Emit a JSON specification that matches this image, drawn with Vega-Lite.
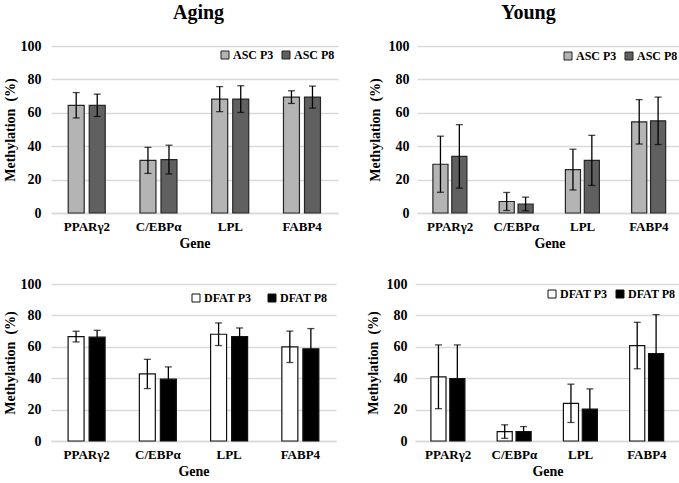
{
  "$schema": "https://vega.github.io/schema/vega-lite/v6.json",
  "padding": {"left": 3, "top": 3, "right": 2, "bottom": 2},
  "background": "white",
  "spacing": 27,
  "config": {
    "view": {"stroke": null},
    "font": "Liberation Serif",
    "axis": {"labelFont": "Liberation Serif", "titleFont": "Liberation Serif", "labelFontWeight": "bold", "titleFontWeight": "bold", "labelColor": "black", "titleColor": "black"}
  },
  "data": {"values": [
    {"panel": "Aging ASC", "gene": "PPARγ2", "group": "ASC P3", "mean": 64.5, "sd": 7.6},
    {"panel": "Aging ASC", "gene": "PPARγ2", "group": "ASC P8", "mean": 64.5, "sd": 6.7},
    {"panel": "Aging ASC", "gene": "C/EBPα", "group": "ASC P3", "mean": 31.5, "sd": 7.8},
    {"panel": "Aging ASC", "gene": "C/EBPα", "group": "ASC P8", "mean": 32.0, "sd": 8.6},
    {"panel": "Aging ASC", "gene": "LPL", "group": "ASC P3", "mean": 68.2, "sd": 7.5},
    {"panel": "Aging ASC", "gene": "LPL", "group": "ASC P8", "mean": 68.2, "sd": 8.0},
    {"panel": "Aging ASC", "gene": "FABP4", "group": "ASC P3", "mean": 69.4, "sd": 3.8},
    {"panel": "Aging ASC", "gene": "FABP4", "group": "ASC P8", "mean": 69.4, "sd": 6.6},
    {"panel": "Young ASC", "gene": "PPARγ2", "group": "ASC P3", "mean": 29.2, "sd": 16.8},
    {"panel": "Young ASC", "gene": "PPARγ2", "group": "ASC P8", "mean": 33.9, "sd": 19.0},
    {"panel": "Young ASC", "gene": "C/EBPα", "group": "ASC P3", "mean": 6.9, "sd": 5.4},
    {"panel": "Young ASC", "gene": "C/EBPα", "group": "ASC P8", "mean": 5.4, "sd": 4.1},
    {"panel": "Young ASC", "gene": "LPL", "group": "ASC P3", "mean": 26.0, "sd": 12.2},
    {"panel": "Young ASC", "gene": "LPL", "group": "ASC P8", "mean": 31.5, "sd": 15.0},
    {"panel": "Young ASC", "gene": "FABP4", "group": "ASC P3", "mean": 54.6, "sd": 13.3},
    {"panel": "Young ASC", "gene": "FABP4", "group": "ASC P8", "mean": 55.2, "sd": 14.2},
    {"panel": "Aging DFAT", "gene": "PPARγ2", "group": "DFAT P3", "mean": 66.5, "sd": 3.4},
    {"panel": "Aging DFAT", "gene": "PPARγ2", "group": "DFAT P8", "mean": 66.1, "sd": 4.4},
    {"panel": "Aging DFAT", "gene": "C/EBPα", "group": "DFAT P3", "mean": 42.7, "sd": 9.3},
    {"panel": "Aging DFAT", "gene": "C/EBPα", "group": "DFAT P8", "mean": 39.4, "sd": 7.8},
    {"panel": "Aging DFAT", "gene": "LPL", "group": "DFAT P3", "mean": 68.0, "sd": 7.2},
    {"panel": "Aging DFAT", "gene": "LPL", "group": "DFAT P8", "mean": 66.5, "sd": 5.5},
    {"panel": "Aging DFAT", "gene": "FABP4", "group": "DFAT P3", "mean": 60.0, "sd": 10.0},
    {"panel": "Aging DFAT", "gene": "FABP4", "group": "DFAT P8", "mean": 58.7, "sd": 12.9},
    {"panel": "Young DFAT", "gene": "PPARγ2", "group": "DFAT P3", "mean": 40.9, "sd": 20.3},
    {"panel": "Young DFAT", "gene": "PPARγ2", "group": "DFAT P8", "mean": 39.8, "sd": 21.4},
    {"panel": "Young DFAT", "gene": "C/EBPα", "group": "DFAT P3", "mean": 6.0, "sd": 4.3},
    {"panel": "Young DFAT", "gene": "C/EBPα", "group": "DFAT P8", "mean": 6.0, "sd": 3.2},
    {"panel": "Young DFAT", "gene": "LPL", "group": "DFAT P3", "mean": 24.0, "sd": 12.2},
    {"panel": "Young DFAT", "gene": "LPL", "group": "DFAT P8", "mean": 20.3, "sd": 12.9},
    {"panel": "Young DFAT", "gene": "FABP4", "group": "DFAT P3", "mean": 60.8, "sd": 14.8},
    {"panel": "Young DFAT", "gene": "FABP4", "group": "DFAT P8", "mean": 55.7, "sd": 24.8}
  ]},
  "resolve": {"scale": {"color": "independent", "x": "independent", "y": "independent", "xOffset": "independent"}, "legend": {"color": "independent"}},
  "vconcat": [
    {
      "spacing": 30,
      "resolve": {"scale": {"color": "independent", "x": "independent", "y": "independent", "xOffset": "independent"}, "legend": {"color": "independent"}},
      "hconcat": [
        {
          "width": 287, "height": 167,
          "title": {"text": "Aging", "font": "Liberation Serif", "fontSize": 20, "fontWeight": "bold", "color": "black", "offset": 16, "dx": 4},
          "transform": [{"filter": "datum.panel === 'Aging ASC'"}],
          "encoding": {
            "x": {"field": "gene", "type": "nominal", "sort": ["PPARγ2", "C/EBPα", "LPL", "FABP4"], "scale": {"type": "band", "paddingInner": 0.48, "paddingOuter": 0.24},
                  "axis": {"title": "Gene", "labelAngle": 0, "labelFontSize": 13, "titleFontSize": 14, "ticks": false, "domainColor": "#d9d9d9", "domainWidth": 1.5, "labelPadding": 7, "titlePadding": 3}},
            "xOffset": {"field": "group", "type": "nominal", "scale": {"type": "band", "paddingInner": 0.24, "paddingOuter": 0, "range": [0, 37]}},
            "y": {"field": "mean", "type": "quantitative", "scale": {"domain": [0, 100]},
                  "axis": {"title": "Methylation\u00a0 (%)", "values": [0, 20, 40, 60, 80, 100], "labelFontSize": 14, "titleFontSize": 14, "grid": true, "gridColor": "#d9d9d9", "gridWidth": 1.5, "domain": false, "ticks": false, "labelPadding": 10, "titlePadding": 3}}
          },
          "layer": [
            {"mark": {"type": "bar", "stroke": "#262626", "strokeWidth": 1.2},
             "encoding": {
               "color": {"field": "group", "type": "nominal", "scale": {"domain": ["ASC P3", "ASC P8"], "range": ["#b4b4b4", "#606060"]},
                         "legend": {"title": null, "orient": "top-right", "direction": "horizontal", "symbolType": "square", "symbolSize": 64, "symbolStrokeColor": "#222222", "symbolStrokeWidth": 1, "labelFont": "Liberation Serif", "labelFontWeight": "bold", "labelFontSize": 12, "labelColor": "black", "columnPadding": 6, "labelOffset": 2, "offset": 3}}
             }},
            {"mark": {"type": "errorbar", "ticks": {"size": 7, "color": "black", "thickness": 1.3}, "rule": {"color": "black", "strokeWidth": 1.3}},
             "encoding": {"yError": {"field": "sd"}}}
          ]
        },
        {
          "width": 265, "height": 167,
          "title": {"text": "Young", "font": "Liberation Serif", "fontSize": 20, "fontWeight": "bold", "color": "black", "offset": 16, "dx": -21},
          "transform": [{"filter": "datum.panel === 'Young ASC'"}],
          "encoding": {
            "x": {"field": "gene", "type": "nominal", "sort": ["PPARγ2", "C/EBPα", "LPL", "FABP4"], "scale": {"type": "band", "paddingInner": 0.48, "paddingOuter": 0.24},
                  "axis": {"title": "Gene", "labelAngle": 0, "labelFontSize": 13, "titleFontSize": 14, "ticks": false, "domainColor": "#d9d9d9", "domainWidth": 1.5, "labelPadding": 7, "titlePadding": 3}},
            "xOffset": {"field": "group", "type": "nominal", "scale": {"type": "band", "paddingInner": 0.2, "paddingOuter": 0, "range": [0, 34]}},
            "y": {"field": "mean", "type": "quantitative", "scale": {"domain": [0, 100]},
                  "axis": {"title": "Methylation\u00a0 (%)", "values": [0, 20, 40, 60, 80, 100], "labelFontSize": 14, "titleFontSize": 14, "grid": true, "gridColor": "#d9d9d9", "gridWidth": 1.5, "domain": false, "ticks": false, "labelPadding": 8, "titlePadding": 6}}
          },
          "layer": [
            {"mark": {"type": "bar", "stroke": "#262626", "strokeWidth": 1.2},
             "encoding": {
               "color": {"field": "group", "type": "nominal", "scale": {"domain": ["ASC P3", "ASC P8"], "range": ["#b4b4b4", "#606060"]},
                         "legend": {"title": null, "orient": "top-right", "direction": "horizontal", "symbolType": "square", "symbolSize": 64, "symbolStrokeColor": "#222222", "symbolStrokeWidth": 1, "labelFont": "Liberation Serif", "labelFontWeight": "bold", "labelFontSize": 12, "labelColor": "black", "columnPadding": 6, "labelOffset": 2, "offset": 4}}
             }},
            {"mark": {"type": "errorbar", "ticks": {"size": 7, "color": "black", "thickness": 1.3}, "rule": {"color": "black", "strokeWidth": 1.3}},
             "encoding": {"yError": {"field": "sd"}}}
          ]
        }
      ]
    },
    {
      "spacing": 30,
      "resolve": {"scale": {"color": "independent", "x": "independent", "y": "independent", "xOffset": "independent"}, "legend": {"color": "independent"}},
      "hconcat": [
        {
          "width": 285, "height": 157,
          "transform": [{"filter": "datum.panel === 'Aging DFAT'"}],
          "encoding": {
            "x": {"field": "gene", "type": "nominal", "sort": ["PPARγ2", "C/EBPα", "LPL", "FABP4"], "scale": {"type": "band", "paddingInner": 0.48, "paddingOuter": 0.24},
                  "axis": {"title": "Gene", "labelAngle": 0, "labelFontSize": 13, "titleFontSize": 14, "ticks": false, "domainColor": "#d9d9d9", "domainWidth": 1.5, "labelPadding": 7, "titlePadding": 3}},
            "xOffset": {"field": "group", "type": "nominal", "scale": {"type": "band", "paddingInner": 0.24, "paddingOuter": 0, "range": [0, 37]}},
            "y": {"field": "mean", "type": "quantitative", "scale": {"domain": [0, 100]},
                  "axis": {"title": "Methylation\u00a0 (%)", "values": [0, 20, 40, 60, 80, 100], "labelFontSize": 14, "titleFontSize": 14, "grid": true, "gridColor": "#d9d9d9", "gridWidth": 1.5, "domain": false, "ticks": false, "labelPadding": 10, "titlePadding": 3}}
          },
          "layer": [
            {"mark": {"type": "bar", "stroke": "#111111", "strokeWidth": 1.2},
             "encoding": {
               "color": {"field": "group", "type": "nominal", "scale": {"domain": ["DFAT P3", "DFAT P8"], "range": ["#ffffff", "#000000"]},
                         "legend": {"title": null, "orient": "top-right", "direction": "horizontal", "symbolType": "square", "symbolSize": 64, "symbolStrokeColor": "#111111", "symbolStrokeWidth": 1, "labelFont": "Liberation Serif", "labelFontWeight": "bold", "labelFontSize": 12, "labelColor": "black", "columnPadding": 14, "labelOffset": 2, "offset": 8}}
             }},
            {"mark": {"type": "errorbar", "ticks": {"size": 7, "color": "black", "thickness": 1.3}, "rule": {"color": "black", "strokeWidth": 1.3}},
             "encoding": {"yError": {"field": "sd"}}}
          ]
        },
        {
          "width": 265, "height": 157,
          "transform": [{"filter": "datum.panel === 'Young DFAT'"}],
          "encoding": {
            "x": {"field": "gene", "type": "nominal", "sort": ["PPARγ2", "C/EBPα", "LPL", "FABP4"], "scale": {"type": "band", "paddingInner": 0.48, "paddingOuter": 0.24},
                  "axis": {"title": "Gene", "labelAngle": 0, "labelFontSize": 13, "titleFontSize": 14, "ticks": false, "domainColor": "#d9d9d9", "domainWidth": 1.5, "labelPadding": 7, "titlePadding": 3}},
            "xOffset": {"field": "group", "type": "nominal", "scale": {"type": "band", "paddingInner": 0.2, "paddingOuter": 0, "range": [0, 34]}},
            "y": {"field": "mean", "type": "quantitative", "scale": {"domain": [0, 100]},
                  "axis": {"title": "Methylation\u00a0 (%)", "values": [0, 20, 40, 60, 80, 100], "labelFontSize": 14, "titleFontSize": 14, "grid": true, "gridColor": "#d9d9d9", "gridWidth": 1.5, "domain": false, "ticks": false, "labelPadding": 8, "titlePadding": 6}}
          },
          "layer": [
            {"mark": {"type": "bar", "stroke": "#111111", "strokeWidth": 1.2},
             "encoding": {
               "color": {"field": "group", "type": "nominal", "scale": {"domain": ["DFAT P3", "DFAT P8"], "range": ["#ffffff", "#000000"]},
                         "legend": {"title": null, "orient": "top-right", "direction": "horizontal", "symbolType": "square", "symbolSize": 64, "symbolStrokeColor": "#111111", "symbolStrokeWidth": 1, "labelFont": "Liberation Serif", "labelFontWeight": "bold", "labelFontSize": 12, "labelColor": "black", "columnPadding": 6, "labelOffset": 2, "offset": 4}}
             }},
            {"mark": {"type": "errorbar", "ticks": {"size": 7, "color": "black", "thickness": 1.3}, "rule": {"color": "black", "strokeWidth": 1.3}},
             "encoding": {"yError": {"field": "sd"}}}
          ]
        }
      ]
    }
  ]
}
